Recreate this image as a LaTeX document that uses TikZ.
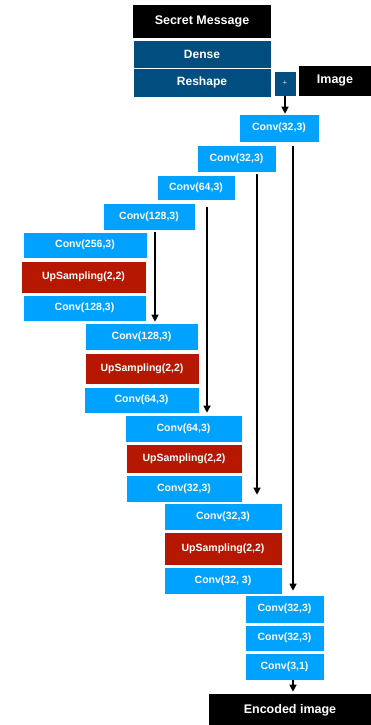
\documentclass[tikz,border=0pt]{standalone}
\usepackage{fontspec}
\setmainfont{Liberation Sans}
\usetikzlibrary{arrows.meta}
\definecolor{convblue}{RGB}{0,162,255}
\definecolor{denseblue}{RGB}{0,77,128}
\definecolor{upred}{RGB}{181,23,0}
\tikzset{
	wh/.style 2 args={minimum width=#1pt, minimum height=#2pt},
	layer/.style={draw=white, line width=0.6pt, inner sep=0pt, text=white, font=\fontsize{10.5}{12}\selectfont\bfseries},
	conv/.style={layer, fill=convblue},
	upsamp/.style={layer, fill=upred},
	dense/.style={layer, fill=denseblue, font=\fontsize{12}{14}\selectfont\bfseries},
	io/.style={layer, fill=black, draw=none, font=\fontsize{12.5}{14}\selectfont\bfseries},
	arr/.style={-{Triangle[length=7pt,width=7pt]}, line width=1.2pt},
}
\begin{document}
\begin{tikzpicture}[x=1pt, y=-1pt]
			\useasboundingbox (0,0) rectangle (371,725);
			% message branch
			\node[io, wh={138}{33}] (msg) at (202,21.5) {Secret Message};
			\node[dense, wh={138}{28}] (dense) at (202,54) {Dense};
			\node[dense, wh={138}{29}] (reshape) at (202,82.5) {Reshape};
			\node[dense, wh={22}{25}, font=\fontsize{8}{9}\selectfont, text=white!75!denseblue] (plus) at (285,83.5) {+};
			\node[io, wh={72}{30}] (img) at (335,81) {Image};
			% encoder
			\node[conv, wh={80}{28}] (c1) at (279,128) {Conv(32,3)};
			\node[conv, wh={79}{27}] (c2) at (236.5,158.5) {Conv(32,3)};
			\node[conv, wh={78}{25}] (c3) at (196,187.5) {Conv(64,3)};
			\node[conv, wh={92}{27}] (c4) at (149,216.5) {Conv(128,3)};
			% decoder
			\node[conv, wh={124}{26}] (d1a) at (85,245) {Conv(256,3)};
			\node[upsamp, wh={125}{32}] (d1b) at (83.5,277) {UpSampling(2,2)};
			\node[conv, wh={123}{26}] (d1c) at (84.5,308) {Conv(128,3)};
			\node[conv, wh={113}{27}] (d2) at (141.5,336.5) {Conv(128,3)};
			\node[upsamp, wh={114}{31}] (d2b) at (142,368.5) {UpSampling(2,2)};
			\node[conv, wh={115}{26}] (d2c) at (141.5,400) {Conv(64,3)};
			\node[conv, wh={117}{27}] (d3) at (183.5,428.5) {Conv(64,3)};
			\node[upsamp, wh={116}{29}] (d3b) at (184,458.5) {UpSampling(2,2)};
			\node[conv, wh={116}{27}] (d3c) at (184,488.5) {Conv(32,3)};
			\node[conv, wh={118}{27}] (d4) at (223,516.5) {Conv(32,3)};
			\node[upsamp, wh={118}{33}] (d4b) at (223,548.5) {UpSampling(2,2)};
			\node[conv, wh={118}{27}] (d4c) at (223,580.5) {Conv(32, 3)};
			% output
			\node[conv, wh={79}{28}] (e1) at (284.5,609) {Conv(32,3)};
			\node[conv, wh={79}{26}] (e2) at (284.5,638) {Conv(32,3)};
			\node[conv, wh={79}{27}] (e3) at (284.5,666.5) {Conv(3,1)};
			\node[io, wh={162}{32}] (enc) at (290,710) {Encoded image};
			% arrows
			\draw[arr] (plus.south) -- (plus.south |- c1.north);
			\draw[arr] ([xshift=14pt,yshift=-4pt]c1.south) -- ([xshift=8.5pt,yshift=4pt]e1.north);
			\draw[arr] ([xshift=20.5pt,yshift=-2pt]c2.south) -- ([xshift=34pt,yshift=8pt]d4.north);
			\draw[arr] ([xshift=11pt,yshift=-7pt]c3.south) -- ([xshift=23.5pt,yshift=2pt]d3.north);
			\draw[arr] ([xshift=6pt,yshift=-2pt]c4.south) -- ([xshift=13.5pt,yshift=1pt]d2.north);
			\draw[arr] ([xshift=8.5pt]e3.south) -- ([xshift=8.5pt,yshift=2pt]e3.south |- enc.north);
		\end{tikzpicture}
\end{document}
